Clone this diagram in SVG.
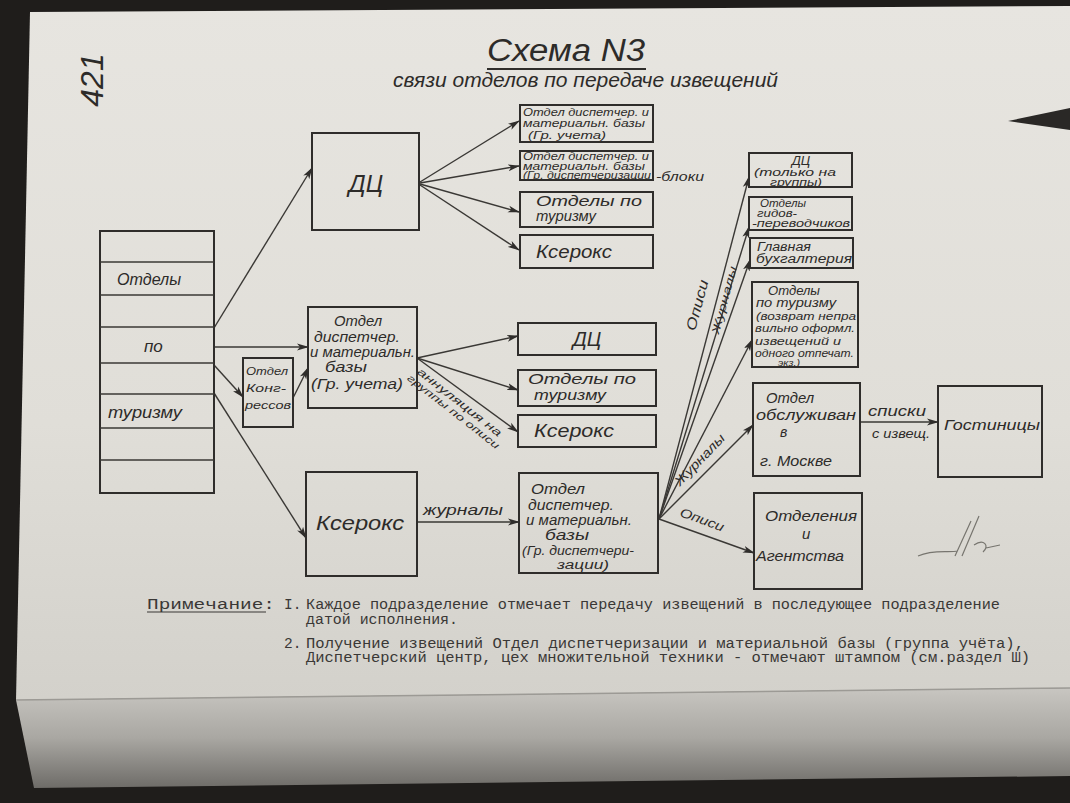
<svg xmlns="http://www.w3.org/2000/svg" width="1070" height="803" viewBox="0 0 1070 803">
  <defs>
    <linearGradient id="paper" x1="0" y1="0" x2="0" y2="1">
      <stop offset="0" stop-color="#e7e5e0"/>
      <stop offset="0.6" stop-color="#e0ded8"/>
      <stop offset="1" stop-color="#d3d1cb"/>
    </linearGradient>
    <linearGradient id="fold" x1="0" y1="0" x2="0" y2="1">
      <stop offset="0" stop-color="#c8c6c1"/>
      <stop offset="0.5" stop-color="#a9a7a2"/>
      <stop offset="1" stop-color="#6e6c68"/>
    </linearGradient>
    <marker id="arr" viewBox="0 0 12 8" refX="11" refY="4" markerWidth="12" markerHeight="8" markerUnits="userSpaceOnUse" orient="auto">
      <path d="M0,0.5 L12,4 L0,7.5 L3,4 z" fill="#2f2d2b"/>
    </marker>
    <style>
      .box { fill: none; stroke: #2f2d2b; stroke-width: 2; }
      .ln { fill: none; stroke: #3a3835; stroke-width: 1.4; }
      .c { fill: none; stroke: #3a3835; stroke-width: 1.4; marker-end: url(#arr); }
      .h { font-family: "Liberation Sans", "DejaVu Sans", sans-serif; font-style: italic; fill: #2d2b29; }
      .tw { font-family: "Liberation Mono", "DejaVu Sans Mono", monospace; fill: #3a3836; font-size: 14.5px; }
    </style>
  </defs>

  <!-- photo background -->
  <rect x="0" y="0" width="1070" height="803" fill="#1f1d1b"/>
  <polygon points="30,12 1070,6 1070,688 16,700" fill="url(#paper)"/>
  <polygon points="16,700 1070,688 1070,776 34,788" fill="url(#fold)"/>
  <line x1="16" y1="700" x2="1070" y2="688" stroke="#9c9a95" stroke-width="1.5"/>
  <polygon points="1008,121 1070,108 1070,130" fill="#2a2826"/>

  <!-- handwritten page number -->
  <text class="h" transform="translate(93,80) rotate(-90)" x="0" y="10" font-size="32" text-anchor="middle" font-style="normal">421</text>

  <!-- title -->
  <g id="title">
    <text class="h" x="566" y="61" font-size="31" text-anchor="middle" textLength="158" lengthAdjust="spacingAndGlyphs">Схема N3</text>
    <line x1="487" y1="69" x2="646" y2="69" stroke="#2f2d2b" stroke-width="2"/>
    <text class="h" x="393" y="87" font-size="21" textLength="385" lengthAdjust="spacingAndGlyphs">связи отделов по передаче извещений</text>
  </g>

  <!-- connectors -->
  <g id="connectors">
    <line class="c" x1="214" y1="328" x2="312" y2="168"/>
    <line class="c" x1="214" y1="347" x2="308" y2="347"/>
    <line class="c" x1="214" y1="365" x2="243" y2="397"/>
    <line class="c" x1="293" y1="398" x2="308" y2="368"/>
    <line class="c" x1="214" y1="393" x2="306" y2="538"/>
    <line class="c" x1="420" y1="182" x2="519" y2="121"/>
    <line class="c" x1="420" y1="183" x2="519" y2="166"/>
    <line class="c" x1="420" y1="184" x2="519" y2="212"/>
    <line class="c" x1="420" y1="185" x2="519" y2="250"/>
    <line class="c" x1="417" y1="358" x2="518" y2="336"/>
    <line class="c" x1="417" y1="358" x2="518" y2="390"/>
    <line class="c" x1="417" y1="358" x2="518" y2="432"/>
    <line class="c" x1="417" y1="522" x2="519" y2="522"/>
    <line class="c" x1="659" y1="519" x2="749" y2="177"/>
    <line class="c" x1="659" y1="519" x2="749" y2="227"/>
    <line class="c" x1="659" y1="519" x2="750" y2="260"/>
    <line class="c" x1="659" y1="519" x2="752" y2="340"/>
    <line class="c" x1="659" y1="519" x2="753" y2="425"/>
    <line class="c" x1="659" y1="519" x2="754" y2="553"/>
    <line class="c" x1="860" y1="422" x2="938" y2="422"/>

    <!-- connector labels -->
    <g transform="translate(421,364) rotate(38)">
      <text class="h" x="2" y="10" font-size="11" textLength="104" lengthAdjust="spacingAndGlyphs">аннуляция на</text>
      <text class="h" x="-2" y="21" font-size="10" textLength="114" lengthAdjust="spacingAndGlyphs">группы по описи</text>
    </g>
    <text class="h" x="423" y="515" font-size="15" textLength="80" lengthAdjust="spacingAndGlyphs">журналы</text>
    <text class="h" transform="translate(697,305) rotate(-75)" x="0" y="5" font-size="14" text-anchor="middle" textLength="52" lengthAdjust="spacingAndGlyphs">Описи</text>
    <text class="h" transform="translate(724,300) rotate(-75)" x="0" y="4" font-size="11" text-anchor="middle" textLength="70" lengthAdjust="spacingAndGlyphs">Журналы</text>
    <text class="h" transform="translate(700,460) rotate(-46)" x="0" y="4" font-size="13" text-anchor="middle" textLength="66" lengthAdjust="spacingAndGlyphs">Журналы</text>
    <text class="h" transform="translate(702,520) rotate(20)" x="0" y="4" font-size="13" text-anchor="middle" textLength="46" lengthAdjust="spacingAndGlyphs">Описи</text>
    <text class="h" x="868" y="416" font-size="14" textLength="58" lengthAdjust="spacingAndGlyphs">списки</text>
    <text class="h" x="872" y="438" font-size="13" textLength="58" lengthAdjust="spacingAndGlyphs">с извещ.</text>
    <text class="h" x="656" y="181" font-size="12" textLength="48" lengthAdjust="spacingAndGlyphs">-блоки</text>
  </g>

  <!-- left block -->
  <g id="otdely-po-turizmu">
    <rect class="box" x="100" y="231" width="114" height="262"/>
    <line class="ln" x1="100" y1="262" x2="214" y2="262"/>
    <line class="ln" x1="100" y1="295" x2="214" y2="295"/>
    <line class="ln" x1="100" y1="327" x2="214" y2="327"/>
    <line class="ln" x1="100" y1="363" x2="214" y2="363"/>
    <line class="ln" x1="100" y1="394" x2="214" y2="394"/>
    <line class="ln" x1="100" y1="428" x2="214" y2="428"/>
    <line class="ln" x1="100" y1="460" x2="214" y2="460"/>
    <text class="h" x="117" y="285" font-size="17" textLength="64" lengthAdjust="spacingAndGlyphs">Отделы</text>
    <text class="h" x="144" y="352" font-size="17">по</text>
    <text class="h" x="108" y="418" font-size="17" textLength="74" lengthAdjust="spacingAndGlyphs">туризму</text>
  </g>

  <g id="du-top">
    <rect class="box" x="312" y="133" width="107" height="97"/>
    <text class="h" x="366" y="192" font-size="24" text-anchor="middle">ДЦ</text>
  </g>

  <g id="otdel-kongressov">
    <rect class="box" x="243" y="358" width="50" height="69"/>
    <text class="h" x="246" y="375" font-size="11" textLength="42" lengthAdjust="spacingAndGlyphs">Отдел</text>
    <text class="h" x="246" y="392" font-size="11" textLength="40" lengthAdjust="spacingAndGlyphs">Конг-</text>
    <text class="h" x="245" y="409" font-size="11" textLength="46" lengthAdjust="spacingAndGlyphs">рессов</text>
  </g>

  <g id="otdel-uchet">
    <rect class="box" x="308" y="307" width="109" height="101"/>
    <text class="h" x="334" y="326" font-size="15" textLength="48" lengthAdjust="spacingAndGlyphs">Отдел</text>
    <text class="h" x="314" y="342" font-size="14" textLength="86" lengthAdjust="spacingAndGlyphs">диспетчер.</text>
    <text class="h" x="310" y="357" font-size="14" textLength="105" lengthAdjust="spacingAndGlyphs">и материальн.</text>
    <text class="h" x="325" y="372" font-size="15" textLength="42" lengthAdjust="spacingAndGlyphs">базы</text>
    <text class="h" x="311" y="389" font-size="15" textLength="92" lengthAdjust="spacingAndGlyphs">(Гр. учета)</text>
  </g>

  <g id="kseroks-left">
    <rect class="box" x="306" y="472" width="111" height="104"/>
    <text class="h" x="316" y="530" font-size="20" textLength="88" lengthAdjust="spacingAndGlyphs">Ксерокс</text>
  </g>

  <!-- DU outputs -->
  <g id="otdel-uchet-top">
    <rect class="box" x="520" y="105" width="133" height="37"/>
    <text class="h" x="523" y="116" font-size="11" textLength="126" lengthAdjust="spacingAndGlyphs">Отдел диспетчер. и</text>
    <text class="h" x="523" y="127" font-size="11" textLength="122" lengthAdjust="spacingAndGlyphs">материальн. базы</text>
    <text class="h" x="528" y="139" font-size="11" textLength="78" lengthAdjust="spacingAndGlyphs">(Гр. учета)</text>
  </g>
  <g id="otdel-disp-top">
    <rect class="box" x="520" y="151" width="133" height="29"/>
    <text class="h" x="523" y="160" font-size="10" textLength="126" lengthAdjust="spacingAndGlyphs">Отдел диспетчер. и</text>
    <text class="h" x="523" y="170" font-size="10" textLength="122" lengthAdjust="spacingAndGlyphs">материальн. базы</text>
    <text class="h" x="523" y="179" font-size="10" textLength="128" lengthAdjust="spacingAndGlyphs">(Гр. диспетчеризации</text>
  </g>
  <g id="otdely-turizm-top">
    <rect class="box" x="520" y="192" width="133" height="35"/>
    <text class="h" x="536" y="206" font-size="14" textLength="106" lengthAdjust="spacingAndGlyphs">Отделы   по</text>
    <text class="h" x="536" y="221" font-size="14" textLength="60" lengthAdjust="spacingAndGlyphs">туризму</text>
  </g>
  <g id="kseroks-top">
    <rect class="box" x="520" y="235" width="133" height="33"/>
    <text class="h" x="536" y="258" font-size="18" textLength="76" lengthAdjust="spacingAndGlyphs">Ксерокс</text>
  </g>

  <!-- Otdel uchet outputs -->
  <g id="du-mid">
    <rect class="box" x="518" y="323" width="138" height="32"/>
    <text class="h" x="587" y="346" font-size="20" text-anchor="middle">ДЦ</text>
  </g>
  <g id="otdely-turizm-mid">
    <rect class="box" x="518" y="370" width="138" height="36"/>
    <text class="h" x="528" y="384" font-size="14" textLength="108" lengthAdjust="spacingAndGlyphs">Отделы   по</text>
    <text class="h" x="534" y="400" font-size="14" textLength="72" lengthAdjust="spacingAndGlyphs">туризму</text>
  </g>
  <g id="kseroks-mid">
    <rect class="box" x="518" y="415" width="138" height="32"/>
    <text class="h" x="534" y="437" font-size="18" textLength="80" lengthAdjust="spacingAndGlyphs">Ксерокс</text>
  </g>

  <g id="otdel-disp-bottom">
    <rect class="box" x="519" y="473" width="139" height="100"/>
    <text class="h" x="531" y="494" font-size="15" textLength="54" lengthAdjust="spacingAndGlyphs">Отдел</text>
    <text class="h" x="528" y="510" font-size="14" textLength="86" lengthAdjust="spacingAndGlyphs">диспетчер.</text>
    <text class="h" x="526" y="525" font-size="14" textLength="106" lengthAdjust="spacingAndGlyphs">и материальн.</text>
    <text class="h" x="545" y="540" font-size="14" textLength="44" lengthAdjust="spacingAndGlyphs">базы</text>
    <text class="h" x="522" y="555" font-size="13" textLength="112" lengthAdjust="spacingAndGlyphs">(Гр. диспетчери-</text>
    <text class="h" x="557" y="569" font-size="12" textLength="52" lengthAdjust="spacingAndGlyphs">зации)</text>
  </g>

  <!-- right column -->
  <g id="du-groups">
    <rect class="box" x="749" y="153" width="103" height="34"/>
    <text class="h" x="801" y="165" font-size="13" text-anchor="middle">ДЦ</text>
    <text class="h" x="754" y="176" font-size="11" textLength="82" lengthAdjust="spacingAndGlyphs">(только на</text>
    <text class="h" x="770" y="186" font-size="11" textLength="52" lengthAdjust="spacingAndGlyphs">группы)</text>
  </g>
  <g id="gidy">
    <rect class="box" x="749" y="197" width="103" height="33"/>
    <text class="h" x="760" y="207" font-size="11" textLength="46" lengthAdjust="spacingAndGlyphs">Отделы</text>
    <text class="h" x="757" y="217" font-size="11" textLength="40" lengthAdjust="spacingAndGlyphs">гидов-</text>
    <text class="h" x="752" y="227" font-size="10" textLength="98" lengthAdjust="spacingAndGlyphs">-переводчиков</text>
  </g>
  <g id="buhgalteria">
    <rect class="box" x="750" y="238" width="103" height="30"/>
    <text class="h" x="757" y="251" font-size="12" textLength="54" lengthAdjust="spacingAndGlyphs">Главная</text>
    <text class="h" x="756" y="263" font-size="12" textLength="96" lengthAdjust="spacingAndGlyphs">бухгалтерия</text>
  </g>
  <g id="otdely-turizm-right">
    <rect class="box" x="752" y="282" width="106" height="85"/>
    <text class="h" x="768" y="295" font-size="12" textLength="52" lengthAdjust="spacingAndGlyphs">Отделы</text>
    <text class="h" x="756" y="307" font-size="12" textLength="80" lengthAdjust="spacingAndGlyphs">по туризму</text>
    <text class="h" x="756" y="320" font-size="11.5" textLength="100" lengthAdjust="spacingAndGlyphs">(возврат непра</text>
    <text class="h" x="755" y="332" font-size="11" textLength="100" lengthAdjust="spacingAndGlyphs">вильно оформл.</text>
    <text class="h" x="755" y="345" font-size="11.5" textLength="86" lengthAdjust="spacingAndGlyphs">извещений и</text>
    <text class="h" x="755" y="357" font-size="11" textLength="99" lengthAdjust="spacingAndGlyphs">одного отпечат.</text>
    <text class="h" x="778" y="366" font-size="9" textLength="22" lengthAdjust="spacingAndGlyphs">экз.)</text>
  </g>
  <g id="otdel-moskva">
    <rect class="box" x="753" y="383" width="107" height="93"/>
    <text class="h" x="766" y="403" font-size="14" textLength="48" lengthAdjust="spacingAndGlyphs">Отдел</text>
    <text class="h" x="756" y="420" font-size="14" textLength="100" lengthAdjust="spacingAndGlyphs">обслуживан</text>
    <text class="h" x="780" y="437" font-size="14">в</text>
    <text class="h" x="760" y="466" font-size="14" textLength="72" lengthAdjust="spacingAndGlyphs">г. Москве</text>
  </g>
  <g id="gostinitsy">
    <rect class="box" x="938" y="386" width="104" height="91"/>
    <text class="h" x="944" y="430" font-size="15" textLength="96" lengthAdjust="spacingAndGlyphs">Гостиницы</text>
  </g>
  <g id="otdelenia-agentstva">
    <rect class="box" x="754" y="493" width="108" height="96"/>
    <text class="h" x="765" y="521" font-size="15" textLength="92" lengthAdjust="spacingAndGlyphs">Отделения</text>
    <text class="h" x="802" y="539" font-size="15">и</text>
    <text class="h" x="756" y="561" font-size="15" textLength="88" lengthAdjust="spacingAndGlyphs">Агентства</text>
  </g>

  <!-- signature -->
  <path d="M918,556 C934,549 948,553 958,551 M955,556 L971,521 M962,556 L979,516 M974,545 C984,538 990,546 983,552 M986,548 L1000,545" fill="none" stroke="#77756f" stroke-width="1.2"/>

  <!-- notes -->
  <g id="notes">
    <text class="tw" x="147" y="609" textLength="128" lengthAdjust="spacingAndGlyphs">Примечание:</text>
    <line x1="147" y1="612" x2="266" y2="612" stroke="#3a3836" stroke-width="1.2"/>
    <text class="tw" x="284" y="609">I.</text>
    <text class="tw" x="306" y="609" textLength="694" lengthAdjust="spacingAndGlyphs">Каждое подразделение отмечает передачу извещений в последующее подразделение</text>
    <text class="tw" x="306" y="624" textLength="152" lengthAdjust="spacingAndGlyphs">датой исполнения.</text>
    <text class="tw" x="284" y="648">2.</text>
    <text class="tw" x="306" y="648" textLength="718" lengthAdjust="spacingAndGlyphs">Получение извещений Отдел диспетчеризации и материальной базы (группа учёта),</text>
    <text class="tw" x="306" y="662" textLength="724" lengthAdjust="spacingAndGlyphs">Диспетчерский центр, цех множительной техники - отмечают штампом (см.раздел Ш)</text>
  </g>
</svg>
